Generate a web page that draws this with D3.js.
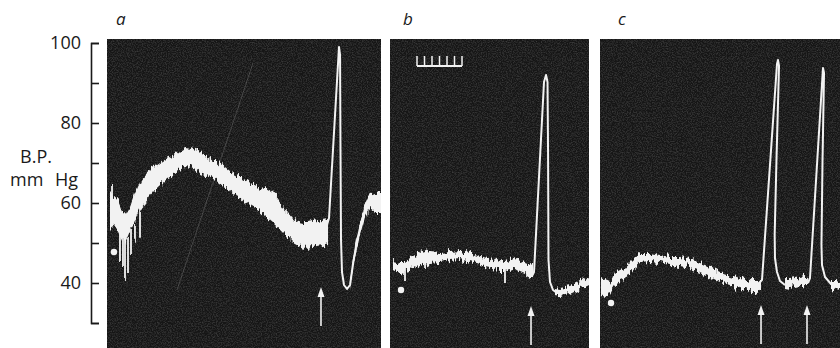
<!DOCTYPE html>
<html>
<head>
<meta charset="utf-8">
<script src="https://cdn.jsdelivr.net/npm/d3@7"></script>
<style>
  body { margin: 0; background: #fff; }
  svg { display: block; font-family: 'Open Sans', sans-serif; }
</style>
</head>
<body>
<svg id="chart" width="840" height="348"></svg>
<script>
const yTicks = [30, 40, 50, 60, 70, 80, 90, 100]
const yLabels = [40, 60, 80, 100]
const panelNames = ['a', 'b', 'c']
const panelSpans = [36.53, 26.53, 32]

// [time, upper edge, lower edge] of the noisy trace
const bandA = [[0.4, 63.3, 53.8], [0.93, 61.8, 54.3], [1.47, 60.8, 52.8], [2.0, 58.3, 50.8], [2.53, 57.3, 50.3], [3.07, 59.0, 52.8], [3.6, 61.8, 55.3], [4.13, 64.0, 57.5], [4.67, 66.3, 59.3], [5.2, 67.5, 60.5], [5.73, 68.3, 61.8], [6.4, 69.0, 63.3], [7.07, 70.0, 64.5], [7.73, 70.8, 65.8], [8.4, 71.5, 66.8], [9.07, 72.0, 67.5], [9.73, 73.0, 68.3], [10.4, 74.0, 69.0], [11.07, 73.8, 68.8], [11.73, 73.3, 68.3], [12.4, 72.8, 67.5], [13.07, 72.0, 67.0], [13.73, 71.3, 66.3], [14.4, 70.3, 65.8], [15.07, 69.8, 64.8], [15.73, 69.0, 64.0], [16.4, 68.0, 63.0], [17.47, 66.8, 61.5], [18.4, 65.8, 60.0], [19.33, 64.8, 59.0], [20.4, 63.8, 57.8], [21.33, 63.3, 56.3], [22.13, 62.5, 55.0], [22.8, 60.8, 53.8], [23.47, 59.0, 52.5], [24.13, 57.5, 51.3], [24.8, 56.0, 50.0], [25.47, 55.3, 49.3], [26.13, 55.0, 48.8], [26.8, 55.0, 48.8], [27.47, 55.3, 49.0], [28.13, 55.5, 49.3], [28.8, 55.8, 49.5], [29.47, 56.0, 50.0]]
const tailA = [[32.4, 40.5, 38.0], [32.8, 46.0, 43.5], [33.2, 50.5, 47.5], [33.73, 55.0, 52.0], [34.4, 59.5, 56.5], [35.07, 62.5, 58.5], [35.73, 63.0, 57.5], [36.13, 62.5, 57.5], [36.53, 62.5, 57.5]]
const bandB1 = [[0.4, 45.75, 43.25], [1.33, 45.25, 42.25], [2.0, 45.25, 43.0], [2.67, 46.25, 43.25], [3.33, 47.0, 44.25], [4.0, 47.75, 45.0], [4.67, 48.25, 44.5], [5.33, 47.75, 45.0], [6.67, 47.5, 45.25], [8.0, 47.75, 45.75], [9.33, 48.0, 46.0], [10.67, 47.5, 45.25], [12.0, 46.5, 44.5], [13.33, 46.25, 44.0], [14.67, 45.5, 43.0], [15.33, 45.25, 43.0], [16.0, 45.75, 43.25], [16.67, 46.5, 43.75], [17.33, 45.5, 43.0], [18.0, 45.0, 42.5], [18.67, 44.5, 41.75], [19.07, 44.25, 41.75]]
const bandB2 = [[22.0, 39.0, 37.0], [22.67, 38.75, 36.75], [24.0, 39.25, 37.25], [25.33, 40.5, 38.5], [26.27, 41.5, 39.25], [26.53, 41.75, 39.5]]
const bandC1 = [[0.13, 41.25, 37.5], [0.67, 40.75, 37.0], [1.33, 40.25, 37.5], [2.0, 42.5, 39.5], [2.67, 43.25, 40.25], [3.33, 43.75, 40.75], [4.0, 45.25, 42.5], [4.67, 46.5, 44.0], [5.33, 47.5, 45.0], [6.67, 47.5, 45.25], [8.0, 47.0, 45.0], [9.33, 46.5, 44.5], [10.67, 46.5, 44.25], [12.0, 46.0, 43.75], [13.33, 45.0, 42.75], [14.67, 44.0, 41.5], [16.0, 42.75, 40.25], [17.33, 42.0, 39.5], [18.67, 41.25, 38.75], [20.0, 40.75, 38.25], [21.07, 40.5, 37.5], [21.47, 40.25, 38.0]]
const bandC2 = [[24.67, 41.0, 39.0], [25.33, 41.0, 38.75], [26.0, 41.25, 39.0], [26.67, 41.5, 39.25], [27.33, 41.75, 39.5], [27.73, 41.5, 39.5]]
const bandC3 = [[30.8, 40.75, 38.5], [31.47, 40.75, 38.25], [32.0, 40.5, 38.0]]

// [time, from, to] short deflections off the trace
const spikesA = [[0.67, 56, 64.5], [1.73, 53, 45.0], [2.13, 51, 44.5], [2.4, 50.5, 41.0], [2.8, 51, 42.5], [3.2, 53, 47.5], [3.73, 55, 50.8], [4.4, 58, 51.8]]
const spikesB = [[2.0, 43.5, 40.5], [4.67, 45, 43.5], [15.33, 43.5, 40.0]]

// [time, mm Hg] of the fast pressure swings
const pulseA = [[29.33, 54.5], [29.6, 56.25], [30.93, 99.0], [31.07, 97.0], [31.13, 73.25], [31.2, 50.75], [31.33, 42.75], [31.6, 39.5], [32.0, 38.5], [32.4, 39.5], [32.8, 44.75], [33.2, 49.25], [33.73, 53.75], [34.4, 58.25], [35.07, 61.0], [35.73, 61.75], [36.13, 61.5]]
const pulseB = [[18.93, 41.75], [19.2, 42.75], [20.53, 90.25], [20.8, 92.0], [21.0, 90.25], [21.07, 73.25], [21.13, 45.75], [21.33, 40.25], [21.73, 38.25], [22.27, 37.5]]
const pulseC1 = [[21.2, 40.0], [21.6, 40.75], [23.6, 94.75], [23.73, 95.75], [23.87, 94.25], [23.53, 70.75], [23.29, 52.0], [23.33, 46.25], [23.6, 42.75], [24.0, 40.5], [24.67, 39.5]]
const pulseC2 = [[27.73, 40.0], [28.0, 41.25], [29.73, 93.75], [29.87, 92.5], [29.67, 70.75], [29.53, 49.5], [29.6, 44.5], [30.0, 41.5], [30.8, 39.75], [31.47, 39.25]]

const dots = [[0.93, 47.75], [1.47, 38.25], [1.47, 35.0]]
const arrowTimes = [[28.53], [18.8], [21.47, 27.6]]
const arrowTips = [39.0, 34.25, 34.5]
const scratchA = [[19.47, 95], [9.33, 38.25]]
const timeMarks = [0, 1, 2, 3, 4, 5, 6]
const timeMarkStart = 3.6
const timeMarkLevel = 94.25

const panels = [
  {bands: [bandA, tailA], spikes: spikesA, pulses: [pulseA]},
  {bands: [bandB1, bandB2], spikes: spikesB, pulses: [pulseB]},
  {bands: [bandC1, bandC2, bandC3], spikes: [], pulses: [pulseC1, pulseC2]}
]

const w = 840
const h = 348
const frames = [[107, 381], [390, 589], [600, 840]]
const frameTop = 39
const labelShift = [9, 13, 18]
const ink = '#f2f2f2'

const svg = d3.select('#chart')
const defs = svg.append('defs')

// very faint photographic grain on the black records
const grain = defs.append('filter').attr('id', 'grain')
  .attr('filterUnits', 'userSpaceOnUse').attr('x', 0).attr('y', 0).attr('width', w).attr('height', h)
grain.append('feTurbulence').attr('type', 'fractalNoise').attr('baseFrequency', 0.8)
  .attr('numOctaves', 2).attr('seed', 7).attr('result', 't')
grain.append('feColorMatrix').attr('in', 't').attr('type', 'matrix')
  .attr('values', '0 0 0 0 1  0 0 0 0 1  0 0 0 0 1  0.08 0 0 0 -0.03').attr('result', 'wn')
grain.append('feComposite').attr('in', 'wn').attr('in2', 'SourceAlpha').attr('operator', 'in').attr('result', 'specks')
const merge = grain.append('feMerge')
merge.append('feMergeNode').attr('in', 'SourceGraphic')
merge.append('feMergeNode').attr('in', 'specks')

// ragged edges of the trace, vertical jitter only
const rough = defs.append('filter').attr('id', 'rough')
  .attr('filterUnits', 'userSpaceOnUse').attr('x', 0).attr('y', 0).attr('width', w).attr('height', h)
rough.append('feTurbulence').attr('type', 'fractalNoise').attr('baseFrequency', '0.4 0.07')
  .attr('numOctaves', 3).attr('seed', 4).attr('result', 'n')
rough.append('feColorMatrix').attr('in', 'n').attr('type', 'matrix')
  .attr('values', '1 0 0 0 0  0 1 0 0 0  0 0 0 0 0.5  0 0 0 0 1').attr('result', 'n2')
rough.append('feDisplacementMap').attr('in', 'SourceGraphic').attr('in2', 'n2')
  .attr('scale', 13).attr('xChannelSelector', 'B').attr('yChannelSelector', 'R')

const yScale = d3.scaleLinear().domain([30, 100]).range([323, 43])

// pressure axis
const yAxis = d3.axisLeft(yScale)
  .tickValues(yTicks)
  .tickSizeInner(-8)
  .tickSizeOuter(-8)
  .tickPadding(10)
  .tickFormat(d => yLabels.includes(d) ? d : '')
const axisG = svg.append('g')
  .attr('transform', 'translate(91,0)')
  .call(yAxis)
axisG.select('.domain').attr('stroke', '#1a1a1a').attr('stroke-width', 1.6)
axisG.selectAll('.tick line').attr('stroke', '#1a1a1a').attr('stroke-width', 1.6)
axisG.selectAll('.tick text')
  .attr('fill', '#1a1a1a')
  .style('font-family', "'Open Sans', sans-serif")
  .style('font-size', '18px')

svg.append('text')
  .attr('x', 36).attr('y', 163)
  .attr('text-anchor', 'middle')
  .attr('fill', '#1a1a1a')
  .style('font-size', '18px')
  .text('B.P.')
const unit = svg.append('text')
  .attr('y', 186)
  .attr('fill', '#1a1a1a')
  .style('font-size', '18px')
unit.append('tspan').attr('x', 10).text('mm')
unit.append('tspan').attr('x', 55).text('Hg')

panels.forEach((p, i) => {
  const [x0, x1] = frames[i]
  const xScale = d3.scaleLinear().domain([0, panelSpans[i]]).range([x0, x1])

  defs.append('clipPath').attr('id', 'clip' + i)
    .append('rect').attr('x', x0).attr('y', frameTop).attr('width', x1 - x0).attr('height', h - frameTop)

  svg.append('text')
    .attr('x', x0 + labelShift[i]).attr('y', 25)
    .attr('fill', '#1a1a1a')
    .style('font-size', '17px')
    .style('font-style', 'italic')
    .text(panelNames[i])

  const g = svg.append('g').attr('clip-path', `url(#clip${i})`)

  g.append('rect')
    .attr('x', x0).attr('y', frameTop)
    .attr('width', x1 - x0).attr('height', h - frameTop)
    .attr('fill', '#121212')
    .attr('filter', 'url(#grain)')

  if (i === 0) {
    g.append('path')
      .attr('d', d3.line().x(d => xScale(d[0])).y(d => yScale(d[1]))(scratchA))
      .attr('fill', 'none').attr('stroke', '#8a8a8a').attr('stroke-opacity', 0.45).attr('stroke-width', 0.8)
  }

  const band = d3.area()
    .x(d => xScale(d[0]))
    .y0(d => yScale(d[2]))
    .y1(d => yScale(d[1]))
  const trace = g.append('g').attr('filter', 'url(#rough)')
  trace.selectAll('path.band')
    .data(p.bands)
    .enter()
    .append('path')
    .attr('class', 'band')
    .attr('d', band)
    .attr('fill', ink)
  trace.selectAll('line.spike')
    .data(p.spikes)
    .enter()
    .append('line')
    .attr('x1', d => xScale(d[0])).attr('x2', d => xScale(d[0]))
    .attr('y1', d => yScale(d[1])).attr('y2', d => yScale(d[2]))
    .attr('stroke', ink).attr('stroke-width', 1.8)

  const line = d3.line().x(d => xScale(d[0])).y(d => yScale(d[1]))
  g.selectAll('path.pulse')
    .data(p.pulses)
    .enter()
    .append('path')
    .attr('class', 'pulse')
    .attr('d', line)
    .attr('fill', 'none')
    .attr('stroke', ink)
    .attr('stroke-width', 2)
    .attr('stroke-linejoin', 'round')

  g.append('circle')
    .attr('cx', xScale(dots[i][0])).attr('cy', yScale(dots[i][1]))
    .attr('r', 3.2).attr('fill', ink)

  arrowTimes[i].forEach(t => {
    const ax = xScale(t)
    const ay = yScale(arrowTips[i])
    g.append('line')
      .attr('x1', ax).attr('x2', ax).attr('y1', ay + 6).attr('y2', ay + 39)
      .attr('stroke', ink).attr('stroke-width', 1.6)
    g.append('path')
      .attr('d', `M${ax},${ay} L${ax - 3.5},${ay + 10} L${ax + 3.5},${ay + 10} Z`)
      .attr('fill', ink)
  })

  if (i === 1) {
    const my = yScale(timeMarkLevel)
    const mx = d => xScale(timeMarkStart + d)
    g.append('line')
      .attr('x1', mx(timeMarks[0])).attr('x2', mx(timeMarks[timeMarks.length - 1]))
      .attr('y1', my).attr('y2', my)
      .attr('stroke', ink).attr('stroke-width', 2)
    g.selectAll('line.mark')
      .data(timeMarks)
      .enter()
      .append('line')
      .attr('class', 'mark')
      .attr('x1', mx).attr('x2', mx)
      .attr('y1', my).attr('y2', my - 10)
      .attr('stroke', ink).attr('stroke-width', 1.5)
  }
})
</script>
</body>
</html>
